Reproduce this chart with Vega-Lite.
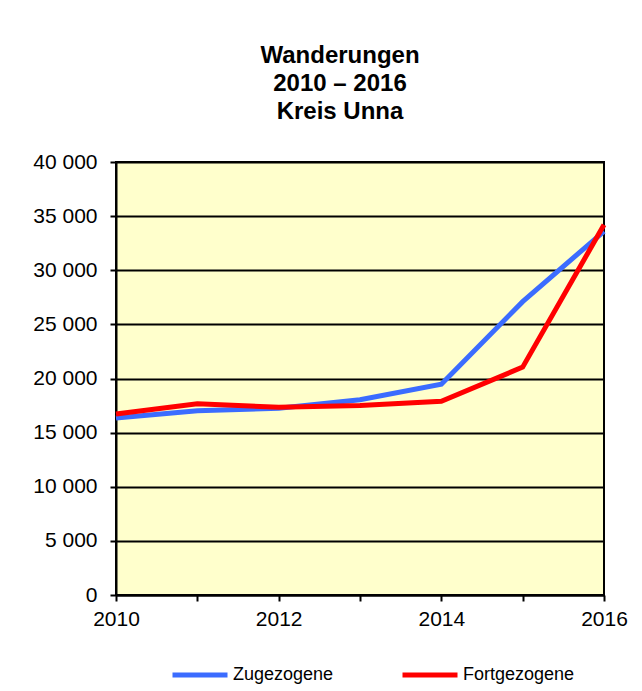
{
  "$schema": "https://vega.github.io/schema/vega-lite/v6.json",
  "autosize": "none",
  "width": 488,
  "height": 433,
  "padding": {"left": 116, "top": 162, "right": 38, "bottom": 96},
  "background": "white",
  "config": {
    "font": "Liberation Sans",
    "locale": {"number": {"decimal": ",", "thousands": " ", "grouping": [3], "currency": ["", " €"]}},
    "view": {"fill": "#FFFFCC", "stroke": "black", "strokeWidth": 2}
  },
  "title": {
    "text": ["Wanderungen", "2010 – 2016", "Kreis Unna"],
    "fontSize": 24,
    "fontWeight": "bold",
    "color": "black",
    "lineHeight": 28,
    "anchor": "middle",
    "dx": -20,
    "offset": 27
  },
  "data": {
    "values": [
      {"Jahr": 2010, "Serie": "Zugezogene", "Wert": 16350},
      {"Jahr": 2011, "Serie": "Zugezogene", "Wert": 17030},
      {"Jahr": 2012, "Serie": "Zugezogene", "Wert": 17250},
      {"Jahr": 2013, "Serie": "Zugezogene", "Wert": 18040},
      {"Jahr": 2014, "Serie": "Zugezogene", "Wert": 19470},
      {"Jahr": 2015, "Serie": "Zugezogene", "Wert": 27100},
      {"Jahr": 2016, "Serie": "Zugezogene", "Wert": 33600},
      {"Jahr": 2010, "Serie": "Fortgezogene", "Wert": 16720},
      {"Jahr": 2011, "Serie": "Fortgezogene", "Wert": 17660},
      {"Jahr": 2012, "Serie": "Fortgezogene", "Wert": 17350},
      {"Jahr": 2013, "Serie": "Fortgezogene", "Wert": 17500},
      {"Jahr": 2014, "Serie": "Fortgezogene", "Wert": 17900},
      {"Jahr": 2015, "Serie": "Fortgezogene", "Wert": 21050},
      {"Jahr": 2016, "Serie": "Fortgezogene", "Wert": 34200}
    ]
  },
  "mark": {"type": "line", "strokeWidth": 5, "strokeJoin": "miter"},
  "encoding": {
    "x": {
      "field": "Jahr",
      "type": "quantitative",
      "scale": {"domain": [2010, 2016], "nice": false, "zero": false},
      "axis": {
        "title": null,
        "values": [2010, 2011, 2012, 2013, 2014, 2015, 2016],
        "labelExpr": "datum.value % 2 == 0 ? format(datum.value, 'd') : ''",
        "grid": false,
        "domainColor": "black",
        "domainWidth": 2,
        "tickColor": "black",
        "tickWidth": 2,
        "tickSize": 6,
        "labelFontSize": 21,
        "labelColor": "black",
        "labelPadding": 7,
        "labelFlush": false
      }
    },
    "y": {
      "field": "Wert",
      "type": "quantitative",
      "scale": {"domain": [0, 40000], "nice": false},
      "axis": {
        "title": null,
        "values": [0, 5000, 10000, 15000, 20000, 25000, 30000, 35000, 40000],
        "format": ",d",
        "grid": true,
        "gridColor": "black",
        "gridWidth": 2,
        "gridOpacity": 1,
        "domainColor": "black",
        "domainWidth": 2,
        "tickColor": "black",
        "tickWidth": 2,
        "tickSize": 6,
        "labelFontSize": 21,
        "labelColor": "black",
        "labelPadding": 13
      }
    },
    "color": {
      "field": "Serie",
      "type": "nominal",
      "sort": ["Zugezogene", "Fortgezogene"],
      "scale": {"domain": ["Zugezogene", "Fortgezogene"], "range": ["#3B6CFF", "#FF0000"]},
      "legend": {
        "title": null,
        "orient": "none",
        "direction": "horizontal",
        "legendX": 54,
        "legendY": 483,
        "symbolType": "stroke",
        "symbolSize": 3025,
        "symbolStrokeWidth": 5,
        "labelFontSize": 18,
        "labelColor": "black",
        "labelOffset": 3,
        "columnPadding": 58
      }
    }
  }
}
